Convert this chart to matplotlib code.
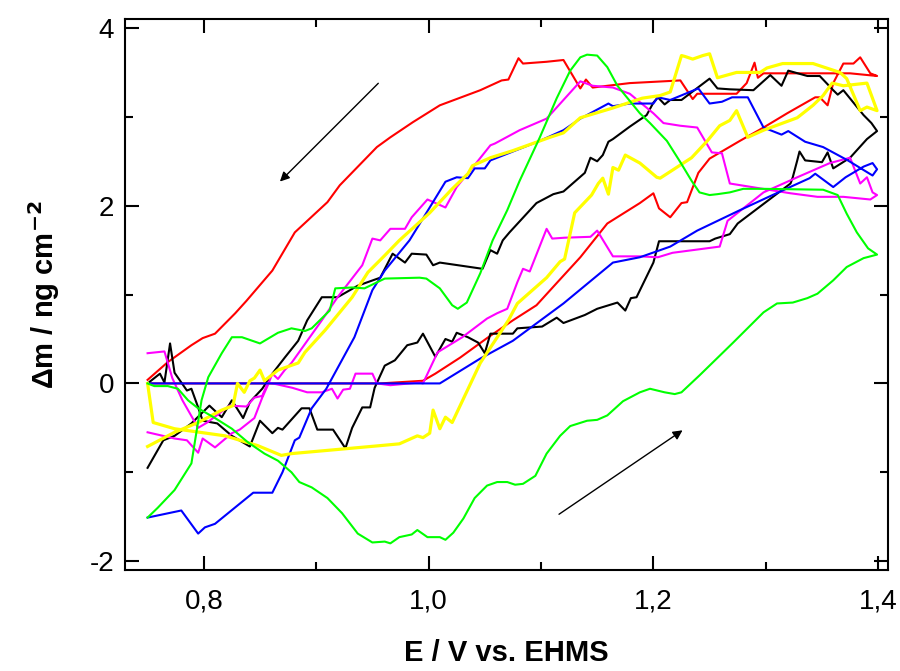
import matplotlib
matplotlib.use("Agg")
import matplotlib.pyplot as plt
from matplotlib.ticker import MultipleLocator, FuncFormatter

plt.rcParams['font.family'] = ['Liberation Sans Narrow', 'Liberation Sans', 'DejaVu Sans']
plt.rcParams['axes.unicode_minus'] = False

# potential E (V) and mass change dm (ng cm-2), forward scan then reverse scan
red_E = [0.750, 0.957, 0.995, 1.006, 1.028, 1.052, 1.075, 1.096, 1.114, 1.135, 1.159, 1.188,
         1.200, 1.205, 1.215, 1.225, 1.230, 1.240, 1.250, 1.277, 1.298, 1.319, 1.344, 1.348,
         1.355, 1.360, 1.369, 1.378, 1.384, 1.393, 1.399,
         1.375, 1.298, 1.293, 1.290, 1.283, 1.274, 1.239, 1.235, 1.224, 1.179, 1.146, 1.140,
         1.135, 1.120, 1.105, 1.084, 1.080, 1.071, 1.065, 1.046, 1.010, 0.986, 0.966, 0.954,
         0.921, 0.910, 0.881, 0.861, 0.838, 0.828, 0.810, 0.799, 0.789, 0.768, 0.750]
red_dm = [0.00, 0.00, 0.03, 0.11, 0.29, 0.51, 0.71, 0.88, 1.13, 1.42, 1.80, 2.03,
          2.14, 1.97, 1.87, 2.03, 2.04, 2.37, 2.53, 2.73, 2.88, 3.04, 3.22, 3.22,
          3.13, 3.38, 3.60, 3.60, 3.67, 3.49, 3.46,
          3.49, 3.49, 3.44, 3.61, 3.38, 3.26, 3.26, 3.20, 3.41, 3.38, 3.33, 3.42,
          3.32, 3.64, 3.62, 3.60, 3.66, 3.42, 3.41, 3.30, 3.13, 2.94, 2.77, 2.66,
          2.23, 2.04, 1.70, 1.27, 0.93, 0.79, 0.56, 0.51, 0.43, 0.24, 0.04]

blue_E = [0.750, 0.957, 1.010, 1.046, 1.075, 1.120, 1.164, 1.188, 1.215, 1.239, 1.277, 1.306,
          1.339, 1.344, 1.360, 1.371, 1.387, 1.395, 1.399,
          1.395, 1.373, 1.351, 1.335, 1.320, 1.314, 1.298, 1.284, 1.270, 1.261, 1.250, 1.240,
          1.215, 1.204, 1.200, 1.179, 1.164, 1.160, 1.135, 1.120, 1.099, 1.055, 1.050, 1.041,
          1.035, 1.025, 1.015, 1.001, 0.983, 0.961, 0.950, 0.934, 0.909, 0.896, 0.885, 0.881,
          0.870, 0.861, 0.844, 0.810, 0.801, 0.795, 0.780, 0.750]
blue_dm = [0.00, 0.00, 0.00, 0.28, 0.48, 0.90, 1.36, 1.42, 1.54, 1.72, 1.95, 2.12,
           2.31, 2.36, 2.21, 2.32, 2.44, 2.48, 2.41,
           2.34, 2.51, 2.66, 2.72, 2.84, 2.80, 2.88, 3.22, 3.22, 3.17, 3.15, 3.32,
           3.19, 3.22, 3.15, 3.15, 3.12, 3.15, 2.98, 2.85, 2.73, 2.51, 2.42, 2.42,
           2.31, 2.32, 2.27, 1.98, 1.61, 1.27, 1.05, 0.52, -0.06, -0.28, -0.61, -0.64,
           -1.00, -1.23, -1.23, -1.58, -1.62, -1.69, -1.43, -1.51]

black_E = [0.750, 0.761, 0.765, 0.770, 0.774, 0.785, 0.789, 0.795, 0.799, 0.812, 0.825, 0.841,
           0.850, 0.861, 0.866, 0.870, 0.887, 0.894, 0.901, 0.915, 0.926, 0.932, 0.941, 0.948,
           0.952, 0.961, 0.970, 0.981, 0.990, 0.995, 1.006, 1.015, 1.021, 1.025, 1.035, 1.044,
           1.050, 1.055, 1.075, 1.079, 1.101, 1.114, 1.120, 1.139, 1.150, 1.168, 1.175, 1.180,
           1.185, 1.200, 1.205, 1.250, 1.255, 1.268, 1.275, 1.322, 1.324, 1.328, 1.330, 1.335,
           1.350, 1.355, 1.360, 1.375, 1.390, 1.399,
           1.394, 1.387, 1.369, 1.364, 1.360, 1.348, 1.337, 1.320, 1.314, 1.304, 1.289, 1.268,
           1.257, 1.250, 1.225, 1.215, 1.210, 1.204, 1.200, 1.194, 1.179, 1.164, 1.160, 1.155,
           1.150, 1.144, 1.139, 1.120, 1.111, 1.096, 1.072, 1.066, 1.061, 1.055, 1.048, 1.010,
           1.004, 0.998, 0.985, 0.979, 0.968, 0.957, 0.937, 0.919, 0.905, 0.892, 0.884, 0.872,
           0.861, 0.852, 0.841, 0.835, 0.825, 0.816, 0.805, 0.789, 0.774, 0.764, 0.750]
black_dm = [0.00, 0.11, 0.01, 0.45, 0.12, -0.08, -0.06, -0.27, -0.42, -0.45, -0.59, -0.71,
            -0.42, -0.56, -0.50, -0.52, -0.28, -0.28, -0.52, -0.52, -0.73, -0.50, -0.27, -0.27,
            -0.05, 0.20, 0.26, 0.43, 0.46, 0.56, 0.30, 0.50, 0.47, 0.57, 0.52, 0.46,
            0.34, 0.56, 0.56, 0.62, 0.64, 0.74, 0.68, 0.77, 0.84, 0.91, 0.82, 0.96,
            0.97, 1.36, 1.60, 1.60, 1.63, 1.68, 1.80, 2.25, 2.32, 2.51, 2.61, 2.51,
            2.49, 2.60, 2.42, 2.54, 2.75, 2.84,
            2.93, 3.02, 3.30, 3.25, 3.30, 3.46, 3.46, 3.52, 3.35, 3.47, 3.30, 3.31,
            3.32, 3.43, 3.19, 3.19, 3.14, 3.22, 3.16, 3.02, 2.89, 2.75, 2.72, 2.57,
            2.50, 2.54, 2.37, 2.16, 2.13, 2.03, 1.70, 1.61, 1.46, 1.50, 1.29, 1.36,
            1.33, 1.45, 1.46, 1.36, 1.46, 1.19, 1.10, 0.97, 0.97, 0.71, 0.48, 0.29,
            0.11, -0.06, -0.21, -0.39, -0.19, -0.38, -0.25, -0.45, -0.59, -0.64, -0.95]

magenta_E = [0.750, 0.765, 0.772, 0.781, 0.795, 0.803, 0.823, 0.838, 0.845, 0.852, 0.857, 0.865,
             0.879, 0.892, 0.905, 0.914, 0.919, 0.924, 0.930, 0.935, 0.950, 0.954, 0.966, 0.992,
             0.995, 1.008, 1.030, 1.052, 1.061, 1.070, 1.079, 1.084, 1.090, 1.105, 1.110, 1.121,
             1.144, 1.150, 1.164, 1.188, 1.204, 1.217, 1.259, 1.266, 1.274, 1.298, 1.328, 1.357,
             1.375,
             1.384, 1.390, 1.395, 1.399, 1.393, 1.369, 1.346, 1.322, 1.268, 1.261, 1.252, 1.239,
             1.224, 1.209, 1.200, 1.179, 1.164, 1.146, 1.135, 1.105, 1.081, 1.059, 1.055, 1.043,
             1.025, 1.015, 0.999, 0.985, 0.979, 0.966, 0.957, 0.950, 0.941, 0.919, 0.905, 0.878,
             0.872, 0.866, 0.861, 0.857, 0.852, 0.845, 0.832, 0.825, 0.810, 0.799, 0.795, 0.785,
             0.774, 0.750]
magenta_dm = [0.34, 0.36, 0.06, -0.19, -0.50, -0.44, -0.25, -0.26, -0.16, -0.14, 0.01, -0.01,
              -0.05, -0.10, -0.10, -0.06, -0.17, -0.07, -0.06, 0.11, 0.11, 0.00, -0.02, 0.01,
              0.00, 0.35, 0.52, 0.73, 0.79, 0.84, 1.14, 1.29, 1.26, 1.74, 1.63, 1.64,
              1.65, 1.72, 1.43, 1.43, 1.42, 1.47, 1.54, 1.83, 1.91, 2.15, 2.32, 2.48,
              2.54,
              2.25, 2.32, 2.15, 2.12, 2.07, 2.10, 2.10, 2.14, 2.25, 2.59, 2.60, 2.88,
              2.90, 2.93, 3.04, 3.26, 3.33, 3.35, 3.40, 2.98, 2.85, 2.70, 2.68, 2.49,
              2.21, 1.98, 2.07, 1.87, 1.74, 1.74, 1.61, 1.63, 1.33, 0.97, 0.71, 0.23,
              0.15, 0.05, 0.11, -0.02, -0.16, -0.39, -0.52, -0.56, -0.72, -0.62, -0.78, -0.64,
              -0.62, -0.55]

yellow_E = [0.750, 0.755, 0.774, 0.819, 0.848, 0.869, 0.878, 0.957, 0.974, 0.990, 0.995, 1.001,
            1.004, 1.010, 1.015, 1.021, 1.046, 1.071, 1.079, 1.105, 1.117, 1.121, 1.130, 1.145,
            1.151, 1.155, 1.160, 1.164, 1.169, 1.175, 1.188, 1.203, 1.206, 1.234, 1.248, 1.259,
            1.268, 1.274, 1.284, 1.298, 1.328, 1.342, 1.351, 1.359, 1.369, 1.390, 1.399,
            1.390, 1.384, 1.372, 1.366, 1.342, 1.315, 1.301, 1.295, 1.274, 1.257, 1.250, 1.244,
            1.235, 1.228, 1.225, 1.215, 1.206, 1.190, 1.164, 1.135, 1.120, 1.108, 1.075, 1.055,
            1.039, 1.035, 1.021, 1.001, 0.981, 0.974, 0.961, 0.946, 0.932, 0.908, 0.890, 0.884,
            0.866, 0.854, 0.850, 0.845, 0.841, 0.836, 0.830, 0.826, 0.816, 0.795, 0.774, 0.750]
yellow_dm = [0.00, -0.44, -0.51, -0.59, -0.70, -0.81, -0.79, -0.70, -0.68, -0.59, -0.61, -0.56,
             -0.30, -0.51, -0.38, -0.44, 0.23, 0.71, 0.90, 1.19, 1.37, 1.40, 1.92, 2.12,
             2.25, 2.31, 2.13, 2.43, 2.40, 2.57, 2.48, 2.32, 2.31, 2.54, 2.73, 2.90,
             2.96, 3.07, 2.77, 2.85, 2.99, 3.13, 3.24, 3.38, 3.35, 3.38, 3.07,
             3.11, 3.07, 3.43, 3.50, 3.60, 3.60, 3.55, 3.50, 3.50, 3.44, 3.71, 3.69,
             3.65, 3.68, 3.69, 3.28, 3.24, 3.21, 3.10, 2.99, 2.82, 2.77, 2.62, 2.54,
             2.45, 2.36, 2.19, 1.92, 1.69, 1.61, 1.44, 1.25, 0.97, 0.60, 0.35, 0.23,
             0.15, 0.03, 0.15, 0.06, 0.03, -0.10, 0.00, -0.25, -0.30, -0.44, -0.55, -0.71]

green_E = [0.750, 0.756, 0.768, 0.777, 0.786, 0.795, 0.810, 0.825, 0.839, 0.854, 0.866, 0.878,
           0.885, 0.896, 0.910, 0.923, 0.937, 0.950, 0.961, 0.966, 0.974, 0.985, 0.990, 0.999,
           1.010, 1.015, 1.022, 1.031, 1.041, 1.052, 1.061, 1.070, 1.077, 1.084, 1.095, 1.105,
           1.117, 1.126, 1.141, 1.150, 1.159, 1.173, 1.188, 1.197, 1.210, 1.219, 1.225, 1.241,
           1.271, 1.298, 1.310, 1.324, 1.337, 1.346, 1.360, 1.372, 1.387, 1.399,
           1.391, 1.381, 1.372, 1.364, 1.351, 1.298, 1.280, 1.268, 1.257, 1.250, 1.241, 1.234,
           1.224, 1.212, 1.197, 1.188, 1.168, 1.159, 1.150, 1.141, 1.135, 1.126, 1.114, 1.099,
           1.081, 1.070, 1.057, 1.046, 1.034, 1.026, 1.021, 1.010, 0.998, 0.992, 0.961, 0.943,
           0.932, 0.917, 0.912, 0.896, 0.890, 0.878, 0.866, 0.850, 0.834, 0.825, 0.816, 0.804,
           0.798, 0.789, 0.774, 0.759, 0.750]
green_dm = [0.00, -0.03, -0.03, -0.06, -0.19, -0.28, -0.39, -0.51, -0.66, -0.79, -0.87, -1.00,
            -1.11, -1.17, -1.29, -1.46, -1.69, -1.79, -1.78, -1.80, -1.73, -1.70, -1.65, -1.73,
            -1.73, -1.76, -1.68, -1.52, -1.29, -1.15, -1.11, -1.11, -1.14, -1.13, -1.04, -0.79,
            -0.59, -0.48, -0.42, -0.41, -0.36, -0.20, -0.10, -0.06, -0.10, -0.12, -0.10, 0.09,
            0.46, 0.80, 0.90, 0.91, 0.96, 1.01, 1.16, 1.31, 1.41, 1.45,
            1.52, 1.70, 1.91, 2.12, 2.18, 2.19, 2.19, 2.15, 2.13, 2.12, 2.15, 2.28,
            2.49, 2.73, 2.93, 3.04, 3.35, 3.56, 3.69, 3.70, 3.67, 3.52, 3.21, 2.77,
            2.28, 1.95, 1.61, 1.24, 0.91, 0.84, 0.88, 1.07, 1.18, 1.19, 1.18, 1.07,
            1.08, 1.07, 0.82, 0.62, 0.59, 0.62, 0.57, 0.45, 0.52, 0.52, 0.34, 0.07,
            -0.19, -0.90, -1.20, -1.40, -1.51]

fig = plt.figure(figsize=(9, 6.71), dpi=100)
ax = fig.add_axes([0.139, 0.1505, 0.848, 0.821])

ax.plot(red_E, red_dm, color='#ff0000', lw=1.5)
ax.plot(black_E, black_dm, color='black', lw=1.5)
ax.plot(magenta_E, magenta_dm, color='#ff00ff', lw=1.5)
ax.plot(blue_E, blue_dm, color='#0000ff', lw=1.5)
ax.plot(yellow_E, yellow_dm, color='#ffff00', lw=2.3)
ax.plot(green_E, green_dm, color='#00ff00', lw=1.5)

# scan direction arrows
ax.annotate('', xy=(0.866, 2.25), xytext=(0.957, 3.40),
            arrowprops=dict(arrowstyle='-|>', color='black', lw=1.0, mutation_scale=14))
ax.annotate('', xy=(1.228, -0.51), xytext=(1.114, -1.49),
            arrowprops=dict(arrowstyle='-|>', color='black', lw=1.0, mutation_scale=14))

ax.set_xlim(0.73, 1.409)
ax.set_ylim(-2.1, 4.1)
ax.xaxis.set_major_locator(MultipleLocator(0.2))
ax.xaxis.set_minor_locator(MultipleLocator(0.1))
ax.yaxis.set_major_locator(MultipleLocator(2))
ax.yaxis.set_minor_locator(MultipleLocator(1))
ax.xaxis.set_major_formatter(FuncFormatter(lambda v, p: ('%.1f' % v).replace('.', ',')))
ax.yaxis.set_major_formatter(FuncFormatter(lambda v, p: '%d' % round(v)))

ax.tick_params(which='both', direction='in', top=True, right=True, width=1.5, labelsize=20)
ax.tick_params(which='major', length=10)
ax.tick_params(which='minor', length=6)
ax.tick_params(axis='x', which='major', pad=13)
ax.tick_params(axis='y', which='major', pad=8)
for s in ax.spines.values():
    s.set_linewidth(1.5)

ax.set_xlabel('E / V vs. EHMS', fontsize=21, fontweight='bold', labelpad=18)
ax.set_ylabel('\u0394m / ng cm$^{\\mathbf{-2}}$', fontsize=21, fontweight='bold', labelpad=20)

fig.savefig('out.png', dpi=100)
